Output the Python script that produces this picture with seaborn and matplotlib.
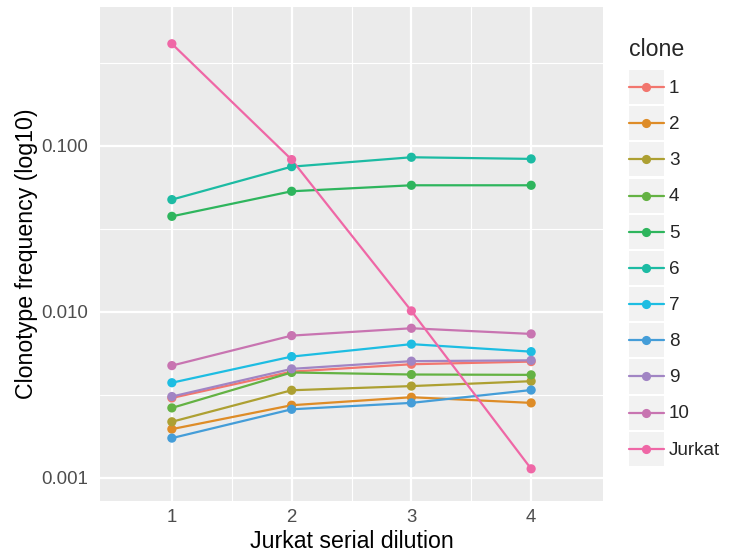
import numpy as np
import pandas as pd
import matplotlib
matplotlib.use("Agg")
import matplotlib.pyplot as plt
import matplotlib.ticker as mticker
import seaborn as sns
from matplotlib.legend_handler import HandlerLine2D
from matplotlib.lines import Line2D
from matplotlib.patches import Rectangle

# ---------------- data ----------------
dilution = [1, 2, 3, 4]
clones = ["1", "2", "3", "4", "5", "6", "7", "8", "9", "10", "Jurkat"]
clone_1 = [0.00302, 0.00435, 0.00482, 0.00500]
clone_2 = [0.00196, 0.00273, 0.00305, 0.00282]
clone_3 = [0.00217, 0.00336, 0.00356, 0.00381]
clone_4 = [0.00263, 0.00430, 0.00418, 0.00416]
clone_5 = [0.0375, 0.0531, 0.0577, 0.0577]
clone_6 = [0.0473, 0.0747, 0.0851, 0.0832]
clone_7 = [0.00373, 0.00536, 0.00637, 0.00574]
clone_8 = [0.00173, 0.00258, 0.00282, 0.00337]
clone_9 = [0.00308, 0.00452, 0.00503, 0.00509]
clone_10 = [0.00473, 0.00717, 0.00794, 0.00734]
jurkat = [0.411, 0.0824, 0.0101, 0.00113]
series = [clone_1, clone_2, clone_3, clone_4, clone_5, clone_6,
          clone_7, clone_8, clone_9, clone_10, jurkat]
colors = ["#F2766E", "#DE8C27", "#ADA032", "#64B243", "#2EB55D", "#1CBBA3",
          "#1DBDE2", "#449DD8", "#A185C4", "#C874B1", "#EF67A6"]
y_ticks = [0.001, 0.010, 0.100]
y_tick_labels = ["0.001", "0.010", "0.100"]

df = pd.DataFrame({
    "dilution": np.tile(dilution, len(clones)),
    "clone": np.repeat(clones, len(dilution)),
    "freq": np.concatenate(series),
})
palette = dict(zip(clones, colors))

# ---------------- style ----------------
sns.set_theme(style="darkgrid", rc={
    "axes.facecolor": "#EBEBEB",
    "grid.color": "white",
    "axes.edgecolor": "none",
})
plt.rcParams["font.family"] = ["Liberation Sans", "DejaVu Sans"]

fig = plt.figure(figsize=(7.4, 5.55), dpi=100)
ax = fig.add_axes([100 / 740, (555 - 500.7) / 555, 503 / 740, 494 / 555])

sns.lineplot(data=df, x="dilution", y="freq", hue="clone", hue_order=clones,
             palette=palette, linewidth=1.6, legend=False, ax=ax, sort=False,
             estimator=None)
sns.scatterplot(data=df, x="dilution", y="freq", hue="clone", hue_order=clones,
                palette=palette, s=44, linewidth=0, legend=False, ax=ax, zorder=3)

ax.set_yscale("log")
ax.set_xlim(0.4, 4.6)
ax.set_ylim(10 ** -3.139, 10 ** -0.163)
ax.set_xticks(dilution)
ax.set_xticklabels([str(d) for d in dilution])
ax.xaxis.set_minor_locator(mticker.FixedLocator([1.5, 2.5, 3.5]))
ax.set_yticks(y_ticks)
ax.set_yticklabels(y_tick_labels)
ax.yaxis.set_minor_locator(mticker.FixedLocator([10 ** -2.5, 10 ** -1.5, 10 ** -0.5]))
ax.yaxis.set_minor_formatter(mticker.NullFormatter())
ax.grid(which="major", color="white", linewidth=1.6)
ax.grid(which="minor", color="white", linewidth=0.8)
ax.tick_params(which="major", length=4.3, width=1.1, color="#333333",
               labelsize=13.4, labelcolor="#4D4D4D")
ax.tick_params(axis="y", which="major", pad=4.3)
ax.tick_params(axis="x", which="major", pad=1.5)
ax.tick_params(which="minor", length=0)
for s in ax.spines.values():
    s.set_visible(False)

ax.set_xlabel("Jurkat serial dilution", fontsize=16.7, color="black")
ax.set_ylabel("Clonotype frequency (log10)", fontsize=16.7, color="black")
ax.xaxis.set_label_coords(0.5, (500.7 - 530.5) / 494)
ax.yaxis.set_label_coords((38 - 100) / 503, 0.5)


class KeyHandler(HandlerLine2D):
    def create_artists(self, legend, orig_handle, xdescent, ydescent,
                       width, height, fontsize, trans):
        rect = Rectangle((-xdescent, -ydescent), width, height,
                         facecolor="#F2F2F2", edgecolor="none", transform=trans)
        arts = super().create_artists(legend, orig_handle, xdescent, ydescent,
                                      width, height, fontsize, trans)
        yc = height / 2.0 - ydescent
        for a in arts:
            a.set_ydata(np.full_like(np.asarray(a.get_ydata(), dtype=float), yc))
        return [rect] + list(arts)


handles = [Line2D([], [], color=c, linewidth=1.6, marker="o", markersize=6.6,
                  markeredgewidth=0) for c in colors]
handler = KeyHandler(marker_pad=0.16, numpoints=1)
leg = fig.legend(handles, clones, loc="upper left",
                 bbox_to_anchor=(629 / 740, 1 - 38 / 555),
                 frameon=False, title="clone", title_fontsize=16.7,
                 fontsize=13.6, handlelength=1.85, handleheight=2.4,
                 labelspacing=0.11, handletextpad=0.27, borderpad=0,
                 borderaxespad=0,
                 handler_map={Line2D: handler})
leg._legend_box.align = "left"
leg._legend_box.sep = 6.5

fig.savefig("out.png", dpi=100)
